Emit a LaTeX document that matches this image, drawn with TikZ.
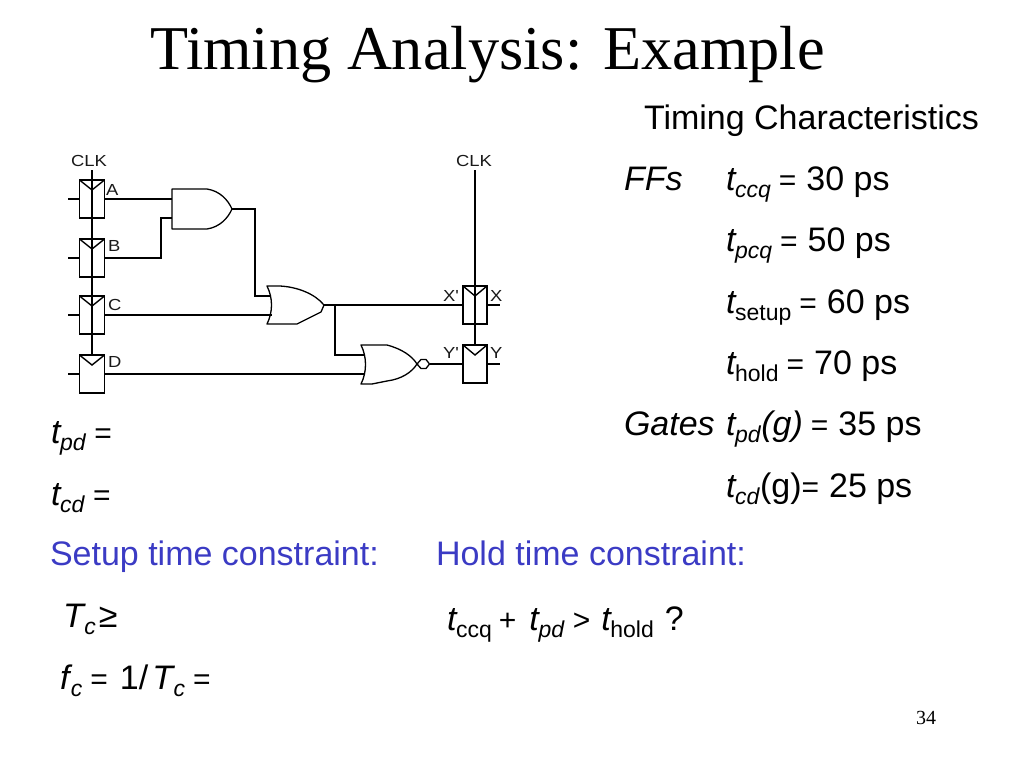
\documentclass[tikz,border=0pt]{standalone}
\usepackage{fontspec}
\setmainfont{Liberation Sans}
\newfontfamily\serifface{Liberation Serif}
\newfontfamily\pinface[FakeStretch=1.15]{Liberation Sans}
\definecolor{hdblue}{HTML}{3B3BC4}
\tikzset{
  x=1pt,y=-1pt,
  ff/.style={draw=black,line width=1.5pt,minimum width=25pt,minimum height=38pt,inner sep=0pt,outer sep=0pt},
  wire/.style={draw=black,line width=1.4pt,line join=miter},
  clock/.style={draw=black,line width=1.7pt},
  gate/.style={draw=black,line width=1.3pt,line join=round},
  pinlabel/.style={font=\fontsize{16}{16}\pinface,inner sep=0pt,anchor=base west,text=black!90},
  txt/.style={inner sep=0pt,outer sep=0pt,anchor=base west,font=\fontsize{34}{34}\selectfont},
  blue txt/.style={txt,text=hdblue},
}
\newcommand{\Sbi}[1]{\kern-1.5pt\raisebox{-7pt}{\fontsize{23}{23}\selectfont\textit{#1}}}
\newcommand{\Sbr}[1]{\kern-1.5pt\raisebox{-7pt}{\fontsize{23}{23}\selectfont #1}}
\newcommand{\sm}[1]{{\fontsize{30}{30}\selectfont #1}}
\begin{document}
\begin{tikzpicture}
\useasboundingbox (0,0) rectangle (1024,768);
% title
\node[inner sep=0pt,anchor=base west,font=\fontsize{62.3}{62.3}\selectfont\serifface] (title) at (150,69) {Timing Analysis: Example};
% flip-flops
\node[ff] (ffA) at (92,199) {};
\node[ff] (ffB) at (92,258) {};
\node[ff] (ffC) at (92,315) {};
\node[ff] (ffD) at (92,374) {};
\node[ff,minimum width=24pt] (ffX) at (475,305) {};
\node[ff,minimum width=24pt] (ffY) at (475,364) {};
\foreach \f in {ffA,ffB,ffC,ffD,ffX,ffY}{
  \draw[wire] (\f.north west) -- ([yshift=-10pt]\f.north) -- (\f.north east);
}
% free ends
\coordinate (clkL) at (92,170);
\coordinate (clkR) at (475,170);
\foreach \f in {ffA,ffB,ffC,ffD}{
  \draw[wire] (\f.west) -- ++(-12,0);
}
\draw[wire] (ffX.east) -- ++(13,0);
\draw[wire] (ffY.east) -- ++(13,0);
% clocks
\draw[clock] (clkL) -- (ffD.north);
\draw[clock] (clkR) -- (ffY.north);
% gates
\draw[gate] (172,189) -- (207,189) .. controls (220,191) and (228,200) .. (232,209) .. controls (228,218) and (220,227) .. (207,229) -- (172,229) -- cycle;
\coordinate (andA) at (172,199);
\coordinate (andB) at (172,218);
\coordinate (andO) at (232,209);
\draw[gate] (267,286) -- (280,286) .. controls (298,287) and (315,294) .. (324,305) -- (321,312) -- (297,324) -- (267,324) .. controls (273,312) and (273,298) .. (267,286) -- cycle;
\coordinate (orA) at (271,296);
\coordinate (orB) at (272,315);
\coordinate (orO) at (324,305);
\draw[gate] (361,345) -- (387,345) .. controls (402,349) and (412,356) .. (417,364) .. controls (412,372) and (402,379) .. (387,381) -- (372,384) -- (361,384) .. controls (367,372) and (367,357) .. (361,345) -- cycle;
\coordinate (norA) at (364,355);
\coordinate (norB) at (365,374);
\draw[gate] (417,364) -- (421,359.5) -- (426,359.5) -- (429.5,364) -- (426,368.5) -- (421,368.5) -- cycle;
\coordinate (norO) at (429.5,364);
\coordinate (branch) at (335,305);
% wires
\draw[wire] (ffA.east) -- (andA);
\draw[wire] (ffB.east) -| (161,218) -- (andB);
\draw[wire] (andO) -| (255,296) -- (orA);
\draw[wire] (ffC.east) -- (orB);
\draw[wire] (ffD.east) -- (norB);
\draw[wire] (orO) -- (ffX.west);
\draw[wire] (branch) |- (norA);
\draw[wire] (norO) -- (ffY.west);
% pin labels
\node[pinlabel] (lclkL) at (71,166) {CLK};
\node[pinlabel] (lclkR) at (456,166) {CLK};
\node[pinlabel] (lA) at (106,195) {A};
\node[pinlabel] (lB) at (108,251) {B};
\node[pinlabel] (lC) at (108,310) {C};
\node[pinlabel] (lD) at (108,367) {D};
\node[pinlabel] (lX1) at (443,301) {X'};
\node[pinlabel] (lX) at (490,301) {X};
\node[pinlabel] (lY1) at (443,358) {Y'};
\node[pinlabel] (lY) at (490,358) {Y};
% right column
\node[txt] (h) at (644,129) {Timing Characteristics};
\node[txt] (ffs) at (624,190) {\textit{FFs}};
\node[txt] (t1) at (726,190) {\textit{t}\Sbi{ccq}\kern8pt\sm{=}\kern10pt 30 ps};
\node[txt] (t2) at (726,251) {\textit{t}\Sbi{pcq}\kern8pt\sm{=}\kern10pt 50 ps};
\node[txt] (t3) at (726,313) {\textit{t}\Sbr{setup}\kern8pt\sm{=}\kern10pt 60 ps};
\node[txt] (t4) at (726,374) {\textit{t}\Sbr{hold}\kern8pt\sm{=}\kern10pt 70 ps};
\node[txt] (gates) at (624,435) {\textit{Gates}};
\node[txt] (t5) at (726,435) {\textit{t}\Sbi{pd}\textit{(g)}\kern8pt\sm{=}\kern10pt 35 ps};
\node[txt] (t6) at (726,497) {\textit{t}\Sbi{cd}(g)\sm{=}\kern10pt 25 ps};
% left column
\node[txt] (tpd) at (51,443) {\textit{t}\Sbi{pd}\kern8pt\sm{=}};
\node[txt] (tcd) at (51,505) {\textit{t}\Sbi{cd}\kern8pt\sm{=}};
\node[blue txt] (setup) at (50,565) {Setup time constraint:};
\node[blue txt] (hold) at (436,565) {Hold time constraint:};
\node[txt] (tc) at (63,627) {\textit{T}\Sbi{c}\kern3pt≥};
\node[txt] (fc) at (60,689) {\textit{f}\Sbi{c}\kern8pt\sm{=}\kern12pt 1/\kern4pt\textit{T}\Sbi{c}\kern8pt\sm{=}};
\node[txt] (hc) at (447,630) {\textit{t}\Sbr{ccq}\kern7pt\sm{+}\kern13pt\textit{t}\Sbi{pd}\kern8pt\sm{>}\kern11pt\textit{t}\Sbr{hold}\kern11pt ?};
\node[inner sep=0pt,anchor=base west,font=\fontsize{20}{20}\selectfont\serifface] (pg) at (916,724) {34};
\end{tikzpicture}
\end{document}
